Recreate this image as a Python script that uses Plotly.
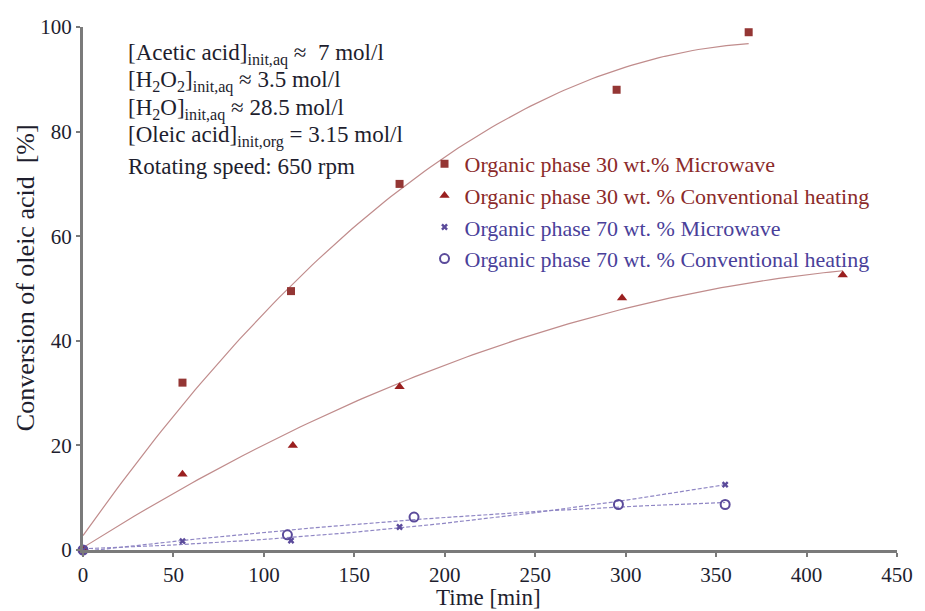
import numpy as np
import plotly.graph_objects as go

# ---- data ----
t_mw30 = [0, 55, 115, 175, 295, 368]
c_mw30 = [0, 32, 49.5, 70, 88, 99]

t_cv30 = [0, 55, 116, 175, 298, 420]
c_cv30 = [0, 14.5, 20, 31.2, 48.2, 52.6]

t_mw70 = [0, 55, 115, 175, 355]
c_mw70 = [0, 1.7, 1.8, 4.4, 12.5]

t_cv70 = [0, 113, 183, 296, 355]
c_cv70 = [0, 2.9, 6.3, 8.7, 8.7]

names = [
    "Organic phase 30 wt.% Microwave",
    "Organic phase 30 wt. % Conventional heating",
    "Organic phase 70 wt. % Microwave",
    "Organic phase 70 wt. % Conventional heating",
]

x_ticks = [0, 50, 100, 150, 200, 250, 300, 350, 400, 450]
y_ticks = [0, 20, 40, 60, 80, 100]

info_lines = [
    "[Acetic acid]<sub>init,aq</sub> \u2248\u00a0 7 mol/l",
    "[H<sub>2</sub>O<sub>2</sub>]<sub>init,aq</sub> \u2248 3.5 mol/l",
    "[H<sub>2</sub>O]<sub>init,aq</sub> \u2248 28.5 mol/l",
    "[Oleic acid]<sub>init,org</sub> = 3.15 mol/l",
    "Rotating speed: 650 rpm",
]

RED1 = "#943634"
RED2 = "#9a1f1f"
BLUE = "#5b4b9b"
RLINE = "#c08c8c"
BLINE = "#8f86c4"
FONT = "Liberation Serif"

fig = go.Figure()

def trend(t, c, color, dash):
    p = np.polyfit(t, c, 2)
    xs = np.linspace(0, max(t), 120)
    fig.add_trace(go.Scatter(x=xs, y=np.polyval(p, xs), mode="lines",
                             line=dict(color=color, width=1.2, dash=dash),
                             showlegend=False, hoverinfo="skip"))

trend(t_mw30, c_mw30, RLINE, "solid")
trend(t_cv30, c_cv30, RLINE, "solid")
trend(t_mw70, c_mw70, BLINE, "4px,2px")
trend(t_cv70, c_cv70, BLINE, "4px,2px")

def span(txt, col):
    return f'<span style="color:{col}">{txt}</span>'

fig.add_trace(go.Scatter(x=t_mw30, y=c_mw30, mode="markers", name=span(names[0], "#8b2a2a"),
                         marker=dict(symbol="square", size=8, color=RED1), cliponaxis=False))
fig.add_trace(go.Scatter(x=t_cv30, y=c_cv30, mode="markers", name=span(names[1], "#8b2a2a"),
                         marker=dict(symbol="triangle-up", size=9, color=RED2), cliponaxis=False))
fig.add_trace(go.Scatter(x=t_mw70, y=c_mw70, mode="markers", name=span(names[2], "#4a3f9a"),
                         marker=dict(symbol="x", size=6, color=BLUE), cliponaxis=False))
fig.add_trace(go.Scatter(x=t_cv70, y=c_cv70, mode="markers", name=span(names[3], "#4a3f9a"),
                         marker=dict(symbol="circle-open", size=9, color=BLUE,
                                     line=dict(width=2, color=BLUE)), cliponaxis=False))

L, R, T, B = 82.5, 19, 27, 61
W, H = 925, 611
pw, ph = W - L - R, H - T - B

def px(xp):
    return (xp - L) / pw

def py(yp):
    return (H - B - yp) / ph

annotations = []
line_y = [55, 82, 109, 136, 167]
for txt, yy in zip(info_lines, line_y):
    annotations.append(dict(text=txt, xref="paper", yref="paper", x=px(126), y=py(yy),
                            xanchor="left", yanchor="middle", showarrow=False,
                            font=dict(family=FONT, size=23, color="#1e1e2e")))
annotations.append(dict(text="Time [min]", xref="paper", yref="paper", x=px(493), y=py(611),
                        xanchor="center", yanchor="bottom", showarrow=False, borderpad=0,
                        font=dict(family=FONT, size=23, color="#1e1e2e")))
annotations.append(dict(text="Conversion of oleic acid\u00a0 [%]", xref="paper", yref="paper",
                        x=px(24), y=py(278), xanchor="center", yanchor="middle",
                        textangle=-90, showarrow=False,
                        font=dict(family=FONT, size=26, color="#1e1e2e")))

axis_common = dict(showgrid=False, zeroline=False, showline=True, linecolor="#7a7a7a",
                   linewidth=3, ticks="outside", ticklen=4, tickwidth=1.5, tickcolor="#7a7a7a",
                   tickfont=dict(family=FONT, size=21, color="#1e1e2e"))

fig.update_layout(
    width=W, height=H,
    margin=dict(l=L, r=R, t=T, b=B, pad=0),
    paper_bgcolor="white", plot_bgcolor="white",
    xaxis=dict(range=[0, 450], tickvals=x_ticks, ticktext=[str(v) for v in x_ticks], **axis_common),
    yaxis=dict(range=[0, 100], tickvals=y_ticks, ticktext=[str(v) for v in y_ticks], **axis_common),
    legend=dict(x=px(428), y=py(143), xanchor="left", yanchor="top",
                bgcolor="rgba(0,0,0,0)", font=dict(family=FONT, size=22),
                itemwidth=30, tracegroupgap=0),
    annotations=annotations,
    showlegend=True,
)

fig.write_html("out.html")
